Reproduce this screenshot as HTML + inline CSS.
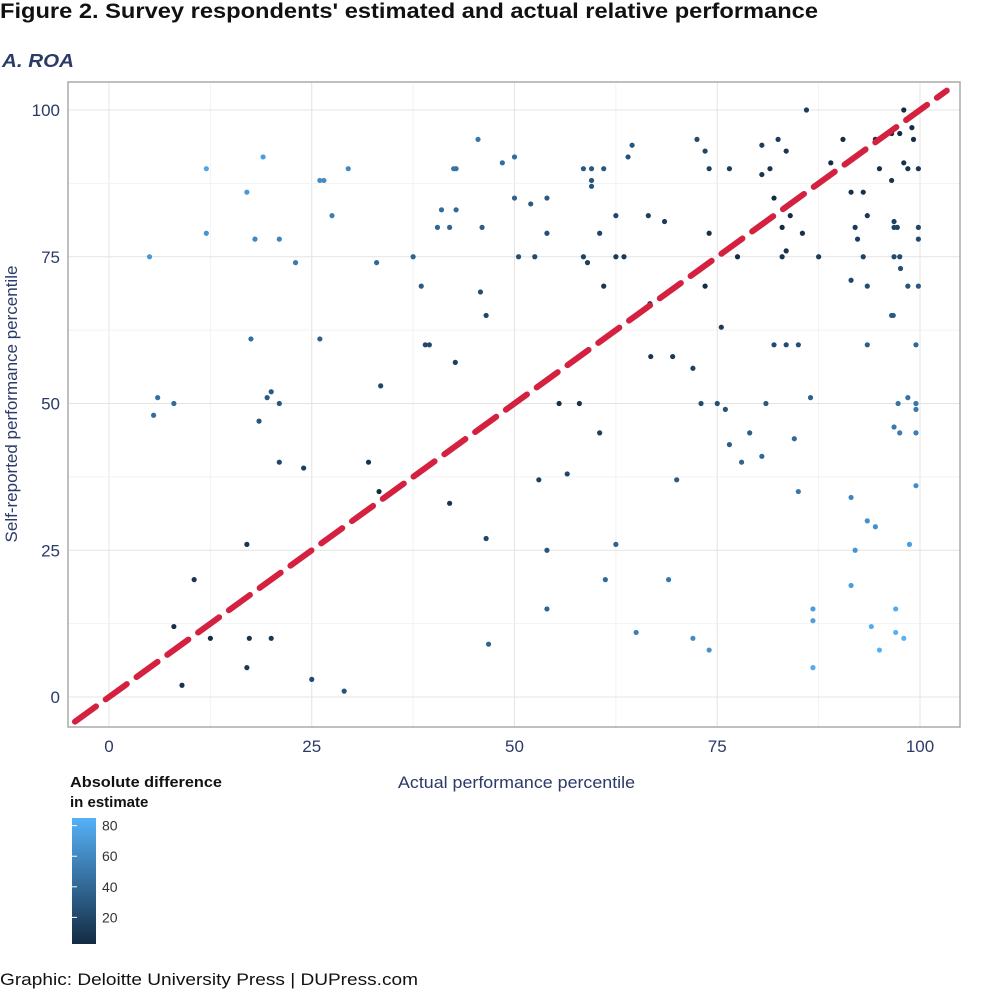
<!DOCTYPE html>
<html><head><meta charset="utf-8"><style>
body{margin:0;background:#fff;width:1000px;height:997px;overflow:hidden;font-family:"Liberation Sans",sans-serif}
svg{position:absolute;left:0;top:0}
</style></head><body>
<svg id="c" width="1000" height="997">
<defs><linearGradient id="g" x1="0" y1="1" x2="0" y2="0"><stop offset="0" stop-color="#132B43"/><stop offset="1" stop-color="#56B1F7"/></linearGradient></defs>
<text x="0" y="18" font-size="21" font-weight="bold" fill="#111" textLength="818" lengthAdjust="spacingAndGlyphs">Figure 2. Survey respondents' estimated and actual relative performance</text>
<text x="2" y="67" font-size="18" font-weight="bold" font-style="italic" fill="#2b3a67" textLength="72" lengthAdjust="spacingAndGlyphs">A. ROA</text>
<g id="grid"></g>
<rect x="68" y="82" width="892" height="645" fill="none" stroke="#aaa" stroke-width="1.5"/>
<g id="pts"></g>
<g id="ticks"></g>
<text x="398" y="788" font-size="17" fill="#2b3a67" textLength="237" lengthAdjust="spacingAndGlyphs">Actual performance percentile</text>
<text transform="translate(17,404) rotate(-90)" font-size="17" fill="#2b3a67" text-anchor="middle">Self-reported performance percentile</text>
<text x="70" y="787" font-size="15" font-weight="bold" fill="#111" textLength="152" lengthAdjust="spacingAndGlyphs">Absolute difference</text>
<text x="70" y="807" font-size="15" font-weight="bold" fill="#111">in estimate</text>
<rect x="72" y="818" width="24" height="126" fill="url(#g)"/>
<g id="leg"></g>
<text x="0" y="985" font-size="17" fill="#111" textLength="418" lengthAdjust="spacingAndGlyphs">Graphic: Deloitte University Press  |  DUPress.com</text>
</svg>
<script>
const xs=[5,5.5,6,8,8,9,10.5,12,12,12.5,17,17,17,17.3,17.5,18,18.5,19,19.5,20,20,21,21,21,23,24,25,26,26,26.5,27.5,29,29.5,32,33,33.3,33.5,37.5,38.5,39,39.5,40.5,41,42,42,42.5,42.8,42.7,42.8,45.5,45.8,46,46.5,46.5,46.8,48.5,50,50,50.5,52,52.5,53,54,54,54,54,55.5,56.5,58,58.5,58.5,59,59.5,59.5,59.5,60.5,60.5,61,61,61.2,62.5,62.5,62.5,63.5,64,64.5,65,66.5,66.7,66.8,68.5,69,69.5,70,72,72,72.5,73,73.5,73.5,74,74,74,75,75.5,76,76.5,76.5,77.5,78,79,80.5,80.5,80.5,81,81.5,82,82,82.5,83,83,83.5,83.5,83.5,84,84.5,85,85,85.5,86,86.5,86.8,86.8,86.8,87.5,89,90.5,91,91.5,91.5,91.5,91.5,92,92,92.3,93,93,93.5,93.5,93.5,93.5,94,94.5,94.5,95,95,96.5,96.5,96.7,96.8,96.8,96.8,96.8,97,97,97.2,97.3,97.5,97.5,97.5,97.6,98,98,98,98.5,98.5,98.5,98.7,99,99.2,99.5,99.5,99.5,99.5,99.5,99.8,99.8,99.8,99.8,96.5];
const ys=[75,48,51,50,12,2,20,90,79,10,86,26,5,10,61,78,47,92,51,52,10,78,50,40,74,39,3,61,88,88,82,1,90,40,74,35,53,75,70,60,60,80,83,80,33,90,90,57,83,95,69,80,65,27,9,91,92,85,75,84,75,37,79,85,25,15,50,38,50,75,90,74,90,88,87,79,45,90,70,20,82,75,26,75,92,94,11,82,67,58,81,20,58,37,56,10,95,50,93,70,79,90,8,50,63,49,90,43,75,40,45,89,94,41,50,90,60,85,95,80,75,60,93,76,82,44,60,35,79,100,51,15,13,5,75,91,95,91,86,71,34,19,25,80,78,75,86,82,70,60,30,12,95,29,90,8,88,65,65,80,81,75,46,15,11,80,50,96,75,45,73,100,91,10,90,51,70,26,97,95,60,50,45,36,49,90,80,78,70,96];
const xTicks=[0,25,50,75,100], yTicks=[0,25,50,75,100], legTicks=[20,40,60,80];
const X=v=>109+v*8.11, Y=v=>697-v*5.87, L=v=>944-(v-2.6)*126/82.4;
const ns="http://www.w3.org/2000/svg";
function mk(t,a,p){const e=document.createElementNS(ns,t);for(const k in a)e.setAttribute(k,a[k]);p.appendChild(e);return e;}
const grid=document.getElementById('grid'),tk=document.getElementById('ticks');
[12.5,37.5,62.5,87.5].concat(xTicks).forEach(v=>{const l=mk('line',{x1:X(v),x2:X(v),y1:82,y2:727,stroke:xTicks.includes(v)?'#e4e4e4':'#f2f2f2','stroke-width':1},grid);

});
[12.5,37.5,62.5,87.5].concat(yTicks).forEach(v=>{const l=mk('line',{x1:68,x2:960,y1:Y(v),y2:Y(v),stroke:yTicks.includes(v)?'#e4e4e4':'#f2f2f2','stroke-width':1},grid);

});
xTicks.forEach(v=>{const t=mk('text',{x:X(v),y:752,'font-size':17,fill:'#2b3a67','text-anchor':'middle'},tk);t.textContent=v;

});
yTicks.forEach(v=>{const t=mk('text',{x:60,y:Y(v)+6,'font-size':17,fill:'#2b3a67','text-anchor':'end'},tk);t.textContent=v;

});
const pts=document.getElementById('pts');
function col(d){let f=Math.max(0,Math.min(1,(d-2.6)/82.4));const a=[0x13,0x2B,0x43],b=[0x56,0xB1,0xF7];return 'rgb('+a.map((c,i)=>Math.round(c+(b[i]-c)*f)).join(',')+')';}
xs.forEach((x,i)=>{const c=mk('circle',{cx:X(x),cy:Y(ys[i]),r:2.6,fill:col(Math.abs(x-ys[i]))},pts);

});
const ln=mk('line',{x1:X(-4.2),y1:Y(-4.2),x2:X(103.3),y2:Y(103.3),stroke:'#d3213f','stroke-width':6,'stroke-dasharray':'26 12','stroke-linecap':'round'},pts);


const leg=document.getElementById('leg');
legTicks.forEach(v=>{const t=mk('text',{x:102,y:L(v)+5,'font-size':14,fill:'#333'},leg);t.textContent=v;


const m=mk('line',{x1:72,x2:77,y1:L(v),y2:L(v),stroke:'#fff'},leg);

});
</script>
</body></html>
